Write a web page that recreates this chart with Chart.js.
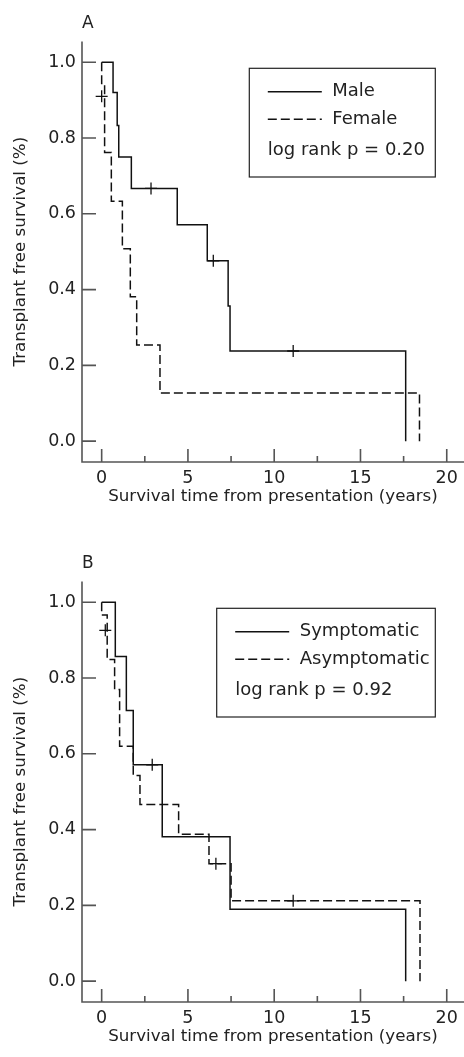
<!DOCTYPE html>
<html>
<head>
<meta charset="utf-8">
<script src="https://cdn.jsdelivr.net/npm/chart.js@4.4.1/dist/chart.umd.min.js"></script>
<style>
  html, body { margin: 0; padding: 0; background: #fff; overflow: hidden; }
  canvas { display: block; }
  #wrapB { position: absolute; top: 540px; left: 0; }
</style>
</head>
<body>
<canvas id="chartA" width="464" height="540"></canvas>
<div id="wrapB"><canvas id="chartB" width="464" height="540"></canvas></div>
<script>
// axis ticks
const xTickValues = [0, 5, 10, 15, 20];
const xMinorTicks = [2.5, 7.5, 12.5, 17.5];
const yTickValues = [0, 0.2, 0.4, 0.6, 0.8, 1.0];

// panel A: sex
const maleTimes = [0, 0.66, 0.9, 0.99, 1.72, 4.38, 6.12, 7.33, 7.44, 17.62];
const maleSurv = [1.0, 0.92, 0.833, 0.75, 0.667, 0.571, 0.476, 0.357, 0.238, 0.0];
const maleCensorTimes = [2.86, 6.47, 11.1];
const maleCensorSurv = [0.667, 0.476, 0.238];

const femaleTimes = [0, 0, 0.17, 0.56, 1.2, 1.66, 2.03, 3.38, 18.42];
const femaleSurv = [1.0, 0.944, 0.762, 0.633, 0.508, 0.381, 0.254, 0.127, 0.0];
const femaleCensorTimes = [0.0];
const femaleCensorSurv = [0.91];

// panel B: symptoms at presentation
const sympTimes = [0, 0.79, 1.43, 1.83, 3.51, 7.44, 17.62];
const sympSurv = [1.0, 0.857, 0.714, 0.571, 0.381, 0.19, 0.0];
const sympCensorTimes = [2.93];
const sympCensorSurv = [0.571];

const asympTimes = [0, 0, 0.32, 0.75, 1.04, 1.83, 2.22, 4.46, 6.22, 7.5, 18.45];
const asympSurv = [1.0, 0.966, 0.849, 0.77, 0.62, 0.543, 0.466, 0.388, 0.31, 0.212, 0.0];
const asympCensorTimes = [0.21, 6.62, 11.1];
const asympCensorSurv = [0.926, 0.31, 0.212];

Chart.defaults.font.family = "'DejaVu Sans', sans-serif";
Chart.defaults.color = "#222";

const toPoints = (xs, ys) => xs.map((x, i) => ({ x: x, y: ys[i] }));

const kmPlugin = {
  id: "kmExtras",
  afterDraw(chart, args, opts) {
    const { ctx, chartArea: a, scales } = chart;
    ctx.save();
    // axes and inward ticks
    ctx.strokeStyle = "#555";
    ctx.lineWidth = 1.6;
    ctx.beginPath();
    ctx.moveTo(a.left, a.top);
    ctx.lineTo(a.left, a.bottom);
    ctx.lineTo(a.right, a.bottom);
    yTickValues.forEach((v) => {
      const y = scales.y.getPixelForValue(v);
      ctx.moveTo(a.left, y);
      ctx.lineTo(a.left + 14, y);
    });
    xTickValues.forEach((v) => {
      const x = scales.x.getPixelForValue(v);
      ctx.moveTo(x, a.bottom);
      ctx.lineTo(x, a.bottom - 13);
    });
    xMinorTicks.forEach((v) => {
      const x = scales.x.getPixelForValue(v);
      ctx.moveTo(x, a.bottom);
      ctx.lineTo(x, a.bottom - 6);
    });
    ctx.stroke();

    // legend box
    ctx.strokeStyle = "#222";
    ctx.lineWidth = 1.2;
    ctx.strokeRect(opts.left, opts.top, opts.right - opts.left, opts.bottom - opts.top);
    ctx.font = "18px 'DejaVu Sans', sans-serif";
    ctx.fillStyle = "#222";
    ctx.textBaseline = "middle";
    ctx.textAlign = "left";
    chart.data.datasets.filter((d) => !d.isCensor).forEach((d, i) => {
      const y = opts.top + 23.5 + i * 27.5;
      ctx.strokeStyle = "#111";
      ctx.lineWidth = d.borderWidth;
      ctx.setLineDash(d.borderDash || []);
      ctx.beginPath();
      ctx.moveTo(opts.left + 18.5, y);
      ctx.lineTo(opts.left + 72.5, y);
      ctx.stroke();
      ctx.setLineDash([]);
      ctx.fillText(d.label, opts.left + 83, y);
    });
    ctx.fillText(opts.pText, opts.left + 18.5, opts.top + 82);
    ctx.restore();
  },
};

function buildChart(id, letter, solid, dashed, pText, boxLeft) {
  return new Chart(document.getElementById(id), {
    type: "line",
    data: {
      datasets: [
        {
          label: solid.label,
          data: toPoints(solid.times, solid.surv),
          stepped: true,
          borderColor: "#111",
          borderWidth: 1.5,
          pointRadius: 0,
          fill: false,
        },
        {
          label: dashed.label,
          data: toPoints(dashed.times, dashed.surv),
          stepped: true,
          borderColor: "#111",
          borderWidth: 1.5,
          borderDash: [9, 4],
          pointRadius: 0,
          fill: false,
        },
        {
          label: "censored",
          isCensor: true,
          data: toPoints(solid.cTimes, solid.cSurv).concat(toPoints(dashed.cTimes, dashed.cSurv)),
          showLine: false,
          pointStyle: "cross",
          pointRadius: 6,
          pointBorderColor: "#111",
          pointBorderWidth: 1.3,
        },
      ],
    },
    options: {
      responsive: false,
      animation: false,
      layout: { padding: 0, autoPadding: false },
      scales: {
        x: {
          type: "linear",
          min: -1.14,
          max: 21.0,
          grid: { display: false, drawTicks: false },
          border: { display: false },
          afterBuildTicks: (s) => { s.ticks = xTickValues.map((v) => ({ value: v })); },
          afterFit: (s) => { s.height = 78; s.paddingLeft = 0; s.paddingRight = 0; },
          ticks: { padding: 6, maxRotation: 0, font: { size: 17.5 } },
          title: {
            display: true,
            text: "Survival time from presentation (years)",
            font: { size: 16.7 },
            padding: { top: 0, bottom: 33 },
          },
        },
        y: {
          type: "linear",
          min: -0.055,
          max: 1.055,
          grid: { display: false, drawTicks: false },
          border: { display: false },
          afterBuildTicks: (s) => { s.ticks = yTickValues.map((v) => ({ value: v })); },
          afterFit: (s) => { s.width = 82; s.paddingTop = 0; s.paddingBottom = 0; },
          ticks: { padding: 6, font: { size: 17.5 }, callback: (v) => Number(v).toFixed(1) },
          title: {
            display: true,
            text: "Transplant free survival (%)",
            font: { size: 16.7 },
            padding: { top: 11, bottom: 0 },
          },
        },
      },
      plugins: {
        legend: { display: false },
        tooltip: { enabled: false },
        title: {
          display: true,
          text: letter,
          align: "start",
          fullSize: false,
          padding: { top: 13, bottom: 8 },
          font: { size: 17, weight: "normal" },
          color: "#222",
        },
        kmExtras: { left: boxLeft, top: 68.3, right: 435.3, bottom: 177, pText: pText },
      },
    },
    plugins: [kmPlugin],
  });
}

buildChart(
  "chartA", "A",
  { label: "Male", times: maleTimes, surv: maleSurv, cTimes: maleCensorTimes, cSurv: maleCensorSurv },
  { label: "Female", times: femaleTimes, surv: femaleSurv, cTimes: femaleCensorTimes, cSurv: femaleCensorSurv },
  "log rank p = 0.20", 249.3
);

buildChart(
  "chartB", "B",
  { label: "Symptomatic", times: sympTimes, surv: sympSurv, cTimes: sympCensorTimes, cSurv: sympCensorSurv },
  { label: "Asymptomatic", times: asympTimes, surv: asympSurv, cTimes: asympCensorTimes, cSurv: asympCensorSurv },
  "log rank p = 0.92", 216.7
);
</script>
</body>
</html>
